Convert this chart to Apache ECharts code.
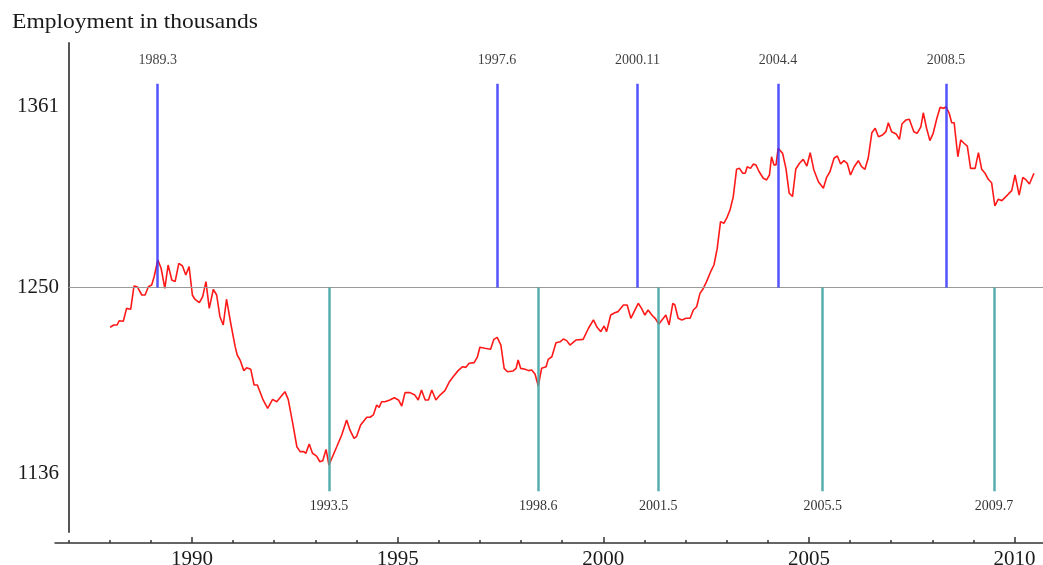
<!DOCTYPE html>
<html>
<head>
<meta charset="utf-8">
<script src="https://cdn.jsdelivr.net/npm/echarts@6/dist/echarts.min.js"></script>
<style>
  html, body { margin: 0; padding: 0; background: #ffffff; }
  #chart { width: 1043px; height: 565px; }
</style>
</head>
<body>
<div id="chart"></div>
<script>
// Monthly employment (thousands), decimal years
const years = [
  1988.01,1988.10,1988.18,1988.23,1988.33,1988.41,1988.51,1988.59,1988.67,1988.78,1988.86,1988.94,
  1989.02,1989.08,1989.17,1989.25,1989.34,1989.42,1989.51,1989.59,1989.68,1989.77,1989.85,1989.93,
  1990.01,1990.07,1990.18,1990.26,1990.34,1990.42,1990.52,1990.60,1990.68,1990.76,1990.84,1990.95,
  1991.05,1991.10,1991.17,1991.26,1991.33,1991.43,1991.51,1991.59,1991.73,1991.84,1991.96,
  1992.06,1992.16,1992.26,1992.34,1992.45,1992.55,1992.63,1992.72,1992.77,1992.85,1992.93,
  1993.03,1993.11,1993.18,1993.26,1993.33,
  1993.52,1993.64,1993.76,1993.84,1993.94,1994.00,1994.10,1994.25,1994.33,1994.41,1994.49,1994.55,
  1994.61,1994.69,1994.81,1994.92,1995.02,1995.10,1995.18,1995.30,1995.42,1995.50,1995.58,1995.67,
  1995.75,1995.83,1995.93,1996.03,1996.15,1996.26,1996.35,1996.47,1996.58,1996.66,1996.74,1996.86,
  1996.94,1997.00,1997.12,1997.26,1997.34,1997.42,1997.51,1997.59,1997.67,1997.81,1997.88,1997.93,
  1997.99,1998.10,1998.18,1998.26,1998.34,1998.42,1998.50,1998.61,1998.66,1998.75,1998.85,1998.95,
  1999.03,1999.11,1999.19,
  1999.34,1999.51,1999.64,1999.76,1999.85,1999.94,2000.02,2000.08,2000.18,2000.28,
  2000.36,2000.49,2000.58,2000.67,2000.75,2000.85,2000.93,2001.01,2001.09,2001.18,
  2001.26,2001.35,2001.46,2001.52,2001.60,2001.69,2001.74,2001.82,2001.91,2002.01,
  2002.11,2002.19,2002.27,2002.35,2002.42,2002.51,2002.61,2002.69,2002.77,2002.85,
  2002.93,2003.00,2003.08,2003.16,2003.24,2003.31,2003.39,2003.45,2003.50,2003.58,
  2003.65,2003.71,2003.79,2003.89,2003.97,2004.04,2004.09,2004.15,2004.20,2004.25,
  2004.36,2004.44,2004.52,2004.60,2004.68,2004.77,2004.86,2004.95,2005.03,2005.12,
  2005.23,2005.35,2005.43,2005.51,2005.61,2005.69,2005.77,2005.85,2005.93,2006.01,
  2006.10,2006.20,2006.28,2006.36,2006.44,2006.53,2006.61,2006.69,2006.79,2006.87,
  2006.93,2007.01,2007.12,2007.20,2007.26,2007.36,2007.44,2007.55,2007.63,2007.72,
  2007.78,2007.86,2007.94,2008.02,2008.11,2008.19,2008.28,2008.33,2008.41,2008.47,
  2008.53,2008.62,2008.69,2008.77,2008.85,2008.93,2009.04,2009.12,2009.20,2009.28,
  2009.36,2009.44,2009.52,2009.60,2009.69,2009.77,2009.85,2009.93,2010.01,2010.11,
  2010.20,2010.28,2010.36,2010.47
];

const employment = [
  1225.6,1227.0,1227.0,1229.6,1229.3,1237.2,1236.6,1250.9,1250.5,1245.4,1245.4,1250.5,
  1251.5,1256.6,1266.9,1261.8,1249.5,1263.8,1254.6,1253.6,1264.8,1263.2,1257.7,1262.8,
  1245.4,1242.8,1240.7,1244.4,1253.6,1237.2,1248.9,1245.4,1232.1,1227.0,1242.8,1227.0,
  1213.7,1208.6,1205.5,1199.0,1200.8,1199.8,1190.2,1190.2,1181.0,1175.9,1181.4,
  1179.9,1183.0,1186.1,1181.4,1166.7,1152.3,1149.3,1149.3,1148.3,1154.0,1148.3,
  1146.6,1143.1,1143.7,1150.7,1141.1,
  1152.3,1159.5,1168.7,1162.6,1157.5,1158.5,1165.6,1170.4,1170.4,1171.8,1177.9,1176.5,
  1179.9,1179.9,1181.0,1182.4,1181.0,1177.3,1185.5,1185.5,1184.0,1181.0,1187.1,1181.0,
  1181.0,1187.1,1181.0,1184.0,1186.7,1192.2,1195.3,1199.0,1201.4,1201.0,1203.5,1203.9,
  1207.5,1213.3,1212.7,1212.1,1218.2,1219.4,1214.7,1200.4,1198.3,1198.8,1200.4,1205.5,
  1200.4,1199.8,1199.0,1199.4,1196.9,1189.6,1200.4,1201.4,1205.9,1207.5,1216.1,1216.7,
  1218.4,1217.4,1214.7,
  1217.8,1218.2,1225.0,1230.1,1225.6,1222.9,1226.4,1222.9,1233.1,1234.5,
  1235.2,1239.3,1239.3,1231.1,1235.2,1240.3,1237.2,1233.1,1236.2,1233.1,
  1231.1,1227.6,1231.1,1233.1,1227.0,1240.3,1239.3,1231.1,1230.1,1231.1,
  1231.1,1236.2,1238.2,1246.4,1248.9,1253.6,1259.7,1263.8,1274.0,1290.4,
  1289.4,1292.5,1297.5,1305.7,1322.5,1323.1,1320.1,1320.1,1324.1,1323.1,
  1325.8,1325.2,1321.0,1317.0,1316.0,1319.0,1330.2,1325.2,1325.2,1335.4,
  1332.3,1323.1,1307.8,1305.8,1322.7,1326.2,1328.6,1324.5,1332.7,1322.1,
  1314.9,1310.9,1317.6,1321.0,1329.3,1330.7,1325.8,1327.8,1326.2,1319.0,
  1324.1,1327.8,1324.1,1322.5,1329.3,1345.0,1347.7,1342.5,1343.6,1345.6,
  1351.1,1345.6,1344.2,1340.9,1350.3,1352.8,1353.2,1345.6,1344.6,1348.6,
  1357.2,1347.7,1340.1,1344.6,1353.8,1360.6,1359.9,1361.0,1356.9,1351.1,
  1351.1,1330.2,1340.5,1338.5,1336.8,1323.1,1323.1,1332.7,1322.5,1320.1,
  1316.4,1314.3,1300.0,1304.1,1303.3,1305.3,1307.4,1309.4,1319.0,1306.7,
  1317.6,1316.0,1313.5,1320.1
];

// Turning points (year, month)
const peakYears = [1989, 1997, 2000, 2004, 2008];
const peakMonths = [3, 6, 11, 4, 5];
const troughYears = [1993, 1998, 2001, 2005, 2009];
const troughMonths = [5, 6, 5, 5, 7];

// Axis ticks
const xMajorTicks = [1990, 1995, 2000, 2005, 2010];
const xMinorTicks = [1987,1988,1989,1990,1991,1992,1993,1994,1995,1996,1997,1998,
                     1999,2000,2001,2002,2003,2004,2005,2006,2007,2008,2009,2010];
const yTickValues = [1136, 1250, 1361];

const baseline = 1250;
const peakTop = 1375;
const troughBottom = 1125;

const X_MIN = 1986.67, X_MAX = 2010.69;
const SERIF = "'Liberation Serif', 'DejaVu Serif', serif";

const seriesData = years.map((y, i) => [y, employment[i]]).filter(p => p[1] != null);
const toDecimal = (y, m) => y + (m - 1) / 12;

function markerLines(yrs, mos, endValue) {
  return yrs.map((y, i) => {
    const x = toDecimal(y, mos[i]);
    return [
      { name: y + '.' + mos[i], coord: [x, baseline] },
      { coord: [x, endValue] }
    ];
  });
}

const chart = echarts.init(document.getElementById('chart'), null, { renderer: 'canvas' });

chart.setOption({
  animation: false,
  backgroundColor: '#ffffff',
  graphic: [{
    type: 'text', left: 12, top: 11, scaleX: 1.07, originX: 0,
    style: { text: 'Employment in thousands', font: "22px " + SERIF, fill: '#1a1a1a' }
  }],
  grid: { left: 55, right: 0, top: 43, bottom: 33, containLabel: false, outerBoundsMode: 'none' },
  xAxis: [
    {
      type: 'value', min: X_MIN, max: X_MAX, offset: 11,
      axisLine: { show: true, lineStyle: { color: '#333333', width: 1.5 } },
      axisTick: { show: true, inside: true, length: 6, customValues: xMajorTicks,
                  lineStyle: { color: '#333333', width: 1.5 } },
      axisLabel: { show: true, customValues: xMajorTicks, margin: 6,
                   fontFamily: SERIF, fontSize: 21, color: '#1a1a1a',
                   formatter: v => String(Math.round(v)) },
      splitLine: { show: false }
    },
    {
      type: 'value', min: X_MIN, max: X_MAX, offset: 11, position: 'bottom',
      axisLine: { show: false },
      axisTick: { show: true, inside: true, length: 3, customValues: xMinorTicks,
                  lineStyle: { color: '#333333', width: 1.5 } },
      axisLabel: { show: false },
      splitLine: { show: false }
    }
  ],
  yAxis: {
    type: 'value', min: 1100, max: 1400, offset: -14,
    axisLine: { show: true, lineStyle: { color: '#555555', width: 2 } },
    axisTick: { show: false },
    axisLabel: { show: true, customValues: yTickValues, margin: 10,
                 fontFamily: SERIF, fontSize: 21, color: '#1a1a1a',
                 formatter: v => String(v) },
    splitLine: { show: false }
  },
  series: [
    {
      name: 'baseline', type: 'line', data: [], silent: true, z: 1,
      markLine: {
        silent: true, symbol: ['none', 'none'], animation: false,
        lineStyle: { color: '#9a9a9a', width: 1.2, type: 'solid' },
        label: { show: false },
        data: [[{ coord: [1987, baseline] }, { coord: [X_MAX, baseline] }]]
      }
    },
    {
      name: 'Employment', type: 'line', data: seriesData, showSymbol: false, z: 2,
      lineStyle: { color: '#ff1a1a', width: 1.6 }
    },
    {
      name: 'Peaks', type: 'line', data: [], silent: true, z: 3,
      markLine: {
        silent: true, symbol: ['none', 'none'], animation: false,
        lineStyle: { color: '#3434ff', width: 2.5, type: 'solid', opacity: 0.85 },
        label: { show: true, position: 'end', distance: 16, formatter: '{b}',
                 fontFamily: SERIF, fontSize: 14, color: '#1a1a1a' },
        data: markerLines(peakYears, peakMonths, peakTop)
      }
    },
    {
      name: 'Troughs', type: 'line', data: [], silent: true, z: 3,
      markLine: {
        silent: true, symbol: ['none', 'none'], animation: false,
        lineStyle: { color: '#45a6a6', width: 2.5, type: 'solid', opacity: 0.9 },
        label: { show: true, position: 'end', distance: 8, formatter: '{b}',
                 fontFamily: SERIF, fontSize: 14, color: '#1a1a1a' },
        data: markerLines(troughYears, troughMonths, troughBottom)
      }
    }
  ]
});
</script>
</body>
</html>
